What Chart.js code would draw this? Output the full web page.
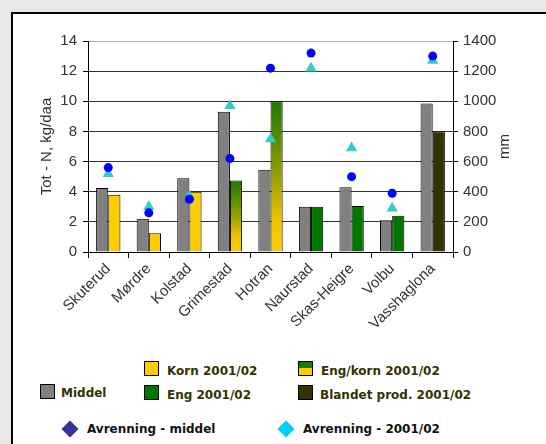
<!DOCTYPE html>
<html>
<head>
<meta charset="utf-8">
<script src="https://cdn.jsdelivr.net/npm/chart.js@4.4.0/dist/chart.umd.min.js"></script>
<style>
  body { margin: 0; width: 546px; height: 444px; overflow: hidden; position: relative; background: #e8e8e8; }
  #panel { position: absolute; left: 11px; top: 12px; right: 0; bottom: 0; background: #fff;
           border-left: 2px solid #000; border-top: 2px solid #000; }
  #chart { position: absolute; left: 13px; top: 14px; }
  .txt { position: absolute; font: bold 12px "DejaVu Sans", sans-serif; color: #333300;
         line-height: 14px; white-space: nowrap; }
  .sw { position: absolute; width: 15px; height: 15px; box-sizing: border-box; border: 1px solid #000; }
  .dia { position: absolute; width: 12px; height: 12px; transform: rotate(45deg); }
</style>
</head>
<body>
<div id="panel"></div>
<canvas id="chart" width="533" height="330"></canvas>

<!-- forklaring -->
<div class="sw" style="left:40px;top:384px;background:#808080"></div>
<div class="txt" style="left:61px;top:386px">Middel</div>
<div class="sw" style="left:144px;top:361px;background:#ffcc00"></div>
<div class="txt" style="left:167px;top:364px">Korn 2001/02</div>
<div class="sw" style="left:144px;top:385px;background:#007800"></div>
<div class="txt" style="left:167px;top:388px">Eng 2001/02</div>
<div class="sw" style="left:298px;top:361px;background:linear-gradient(#1e7a00 50%, #ffcc00 50%)"></div>
<div class="txt" style="left:321px;top:364px">Eng/korn 2001/02</div>
<div class="sw" style="left:298px;top:385px;background:#333300"></div>
<div class="txt" style="left:320px;top:388px">Blandet prod. 2001/02</div>
<div class="dia" style="left:64px;top:423px;background:#333399"></div>
<div class="txt" style="left:87px;top:422px;color:#111">Avrenning - middel</div>
<div class="dia" style="left:280px;top:423px;background:#00ccff"></div>
<div class="txt" style="left:303px;top:422px;color:#111">Avrenning - 2001/02</div>

<script>
const felt = ['Skuterud', 'Mørdre', 'Kolstad', 'Grimestad', 'Hotran', 'Naurstad', 'Skas-Heigre', 'Volbu', 'Vasshaglona'];
const middel = [4.25, 2.2, 4.9, 9.3, 5.45, 3.0, 4.3, 2.1, 9.85];
const aar0102 = [3.8, 1.25, 4.0, 4.75, 10.0, 3.0, 3.05, 2.4, 8.0];
const produksjon = ['korn', 'korn', 'korn', 'engkorn', 'engkorn', 'eng', 'eng', 'eng', 'blandet'];
const avrMiddel = [560, 260, 350, 620, 1220, 1320, 500, 390, 1300];
const avr0102 = [520, 300, 370, 970, 750, 1220, 690, 290, 1270];

const farger = { korn: '#ffcc00', eng: '#007800', blandet: '#333300' };

// eng/korn-søylene går fra grønt øverst til gult nederst
function soyleFarge(c) {
    const type = produksjon[c.dataIndex];
    if (type !== 'engkorn') return farger[type] || farger.korn;
    const chart = c.chart;
    const y = chart.scales.y;
    if (!chart.chartArea || !y) return farger.korn;
    const topp = y.getPixelForValue(aar0102[c.dataIndex]);
    const bunn = y.getPixelForValue(0);
    const g = chart.ctx.createLinearGradient(0, topp, 0, bunn);
    g.addColorStop(0, '#1e7800');
    g.addColorStop(0.45, '#8a9c00');
    g.addColorStop(0.8, '#f2c400');
    g.addColorStop(1, '#ffcc00');
    return g;
}

const mmTittel = {
    id: 'mmTittel',
    afterDraw(chart) {
        const { ctx, chartArea } = chart;
        ctx.save();
        ctx.translate(492, (chartArea.top + chartArea.bottom) / 2);
        ctx.rotate(-Math.PI / 2);
        ctx.font = '15px "Liberation Sans", Arial, sans-serif';
        ctx.fillStyle = '#333';
        ctx.textAlign = 'center';
        ctx.textBaseline = 'middle';
        ctx.fillText('mm', 0, 0);
        ctx.restore();
    }
};

Chart.defaults.font.family = '"Liberation Sans", Arial, sans-serif';
Chart.defaults.font.size = 15;
Chart.defaults.color = '#333';

new Chart(document.getElementById('chart'), {
    type: 'bar',
    data: {
        labels: felt,
        datasets: [{
            type: 'line',
            label: 'Avrenning - middel',
            data: avrMiddel,
            yAxisID: 'y2',
            showLine: false,
            pointStyle: 'circle',
            pointRadius: 4.5,
            backgroundColor: '#0000ff',
            borderColor: '#0000ff',
            borderWidth: 0,
            order: 0
        }, {
            type: 'line',
            label: 'Avrenning - 2001/02',
            data: avr0102,
            yAxisID: 'y2',
            showLine: false,
            pointStyle: 'triangle',
            pointRadius: 6.5,
            backgroundColor: '#33cccc',
            borderColor: '#33cccc',
            borderWidth: 0,
            order: 1
        }, {
            label: 'Middel',
            data: middel,
            yAxisID: 'y',
            backgroundColor: '#808080',
            borderColor: '#000',
            borderWidth: 1,
            order: 2
        }, {
            label: '2001/02',
            data: aar0102,
            yAxisID: 'y',
            backgroundColor: soyleFarge,
            borderColor: '#000',
            borderWidth: 1,
            order: 2
        }]
    },
    options: {
        responsive: false,
        animation: false,
        devicePixelRatio: 1,
        layout: { padding: { left: 21, top: 27, right: 0, bottom: 0 } },
        datasets: { bar: { barPercentage: 1, categoryPercentage: 0.6 } },
        plugins: { legend: { display: false }, tooltip: { enabled: false } },
        scales: {
            x: {
                offset: true,
                grid: { offset: true, drawOnChartArea: false, tickLength: 6, color: '#000' },
                border: { color: '#000' },
                ticks: { minRotation: 45, maxRotation: 45, autoSkip: false, padding: 2 },
                afterFit: s => { s.height = 92; }
            },
            y: {
                position: 'left',
                min: 0,
                max: 14,
                ticks: { stepSize: 2, padding: 6, callback: v => String(v) },
                grid: { color: c => c.tick && c.tick.value === 14 ? '#b4b4b4' : '#333', tickColor: '#000', tickLength: 5 },
                border: { color: '#000' },
                title: { display: true, text: 'Tot - N, kg/daa', padding: { top: 4, bottom: 4 } },
                afterFit: s => { s.width = 54; }
            },
            y2: {
                position: 'right',
                min: 0,
                max: 1400,
                ticks: { stepSize: 200, padding: 5, callback: v => String(v) },
                grid: { drawOnChartArea: false, tickColor: '#000', tickLength: 5 },
                border: { color: '#000' },
                afterFit: s => { s.width = 93; }
            }
        }
    },
    plugins: [mmTittel]
});
</script>
</body>
</html>
